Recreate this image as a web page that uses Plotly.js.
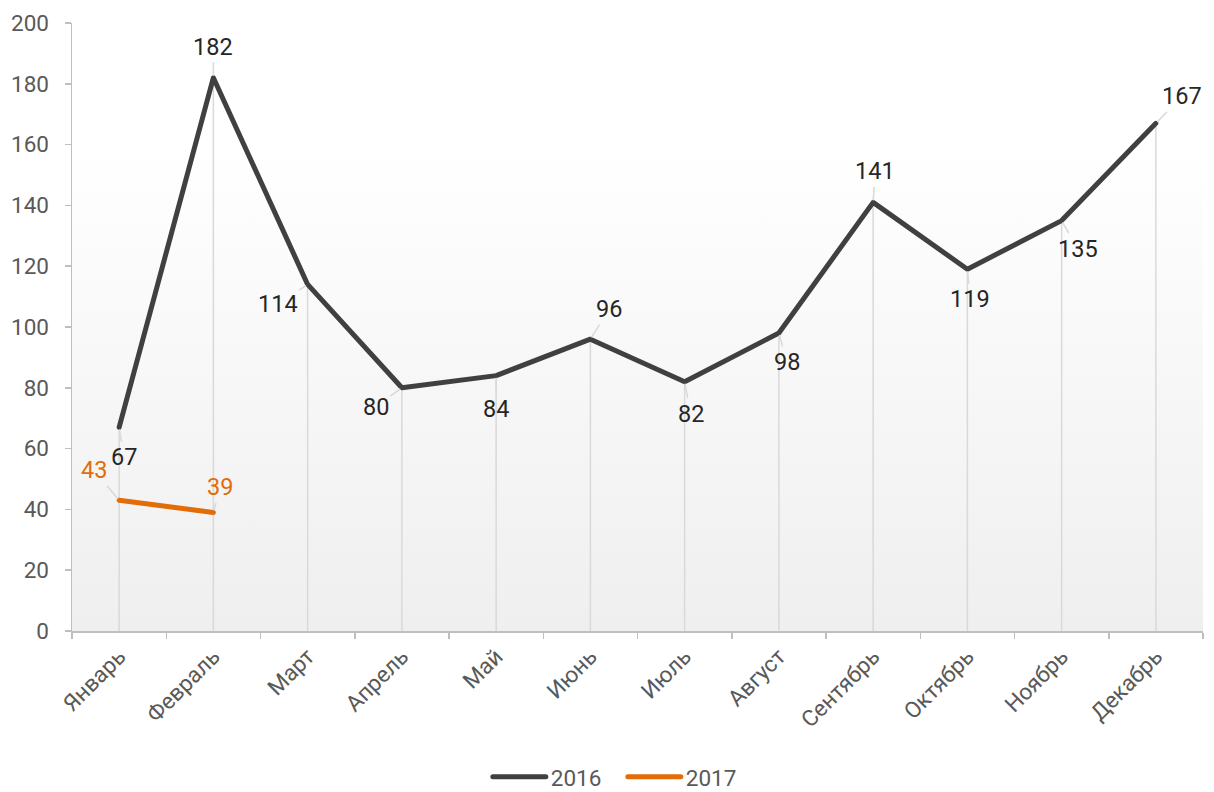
<!DOCTYPE html>
<html>
<head>
<meta charset="utf-8">
<script src="https://cdn.plot.ly/plotly-3.0.1.min.js"></script>
<style>html,body{margin:0;padding:0;background:#fff;}#chart{width:1214px;height:792px;}</style>
</head>
<body>
<div id="chart"></div>
<script>
const months = ["Январь","Февраль","Март","Апрель","Май","Июнь","Июль","Август","Сентябрь","Октябрь","Ноябрь","Декабрь"];
const values2016 = [67,182,114,80,84,96,82,98,141,119,135,167];
const months2017 = ["Январь","Февраль"];
const values2017 = [43,39];
const yTicks = [0,20,40,60,80,100,120,140,160,180,200];

// label offsets (style only)
const off2016 = [[5,30],[0,-31],[-30,20],[-26,19],[0,33],[19,-30],[6,32],[8,29],[2,-31],[3,30],[16,28],[26,-27]];
const off2017 = [[-25,-30],[7,-25]];

const traces = [
  {
    x: months, y: values2016, type: 'scatter', mode: 'markers',
    marker: {size: 1, color: 'rgba(0,0,0,0)'},
    error_y: {type: 'data', symmetric: false, array: values2016.map(() => 0), arrayminus: values2016,
              width: 0, thickness: 1.5, color: '#d9d9d9'},
    showlegend: false, hoverinfo: 'skip'
  },
  {
    x: months, y: values2016, type: 'scatter', mode: 'lines', name: '2016',
    line: {color: '#404040', width: 5}
  },
  {
    x: months2017, y: values2017, type: 'scatter', mode: 'lines', name: '2017',
    line: {color: '#e36c09', width: 5}
  }
];

const annotations = [];
values2016.forEach((v, i) => {
  annotations.push({x: months[i], y: v, xref: 'x', yref: 'y', text: String(v),
    showarrow: true, arrowhead: 0, arrowwidth: 1.5, arrowcolor: '#d9d9d9',
    ax: off2016[i][0], ay: off2016[i][1], standoff: 2,
    font: {family: 'Roboto', size: 23.5, color: '#262626'}});
});
values2017.forEach((v, i) => {
  annotations.push({x: months2017[i], y: v, xref: 'x', yref: 'y', text: String(v),
    showarrow: true, arrowhead: 0, arrowwidth: 1.5, arrowcolor: '#d9d9d9',
    ax: off2017[i][0], ay: off2017[i][1], standoff: 2,
    font: {family: 'Roboto', size: 23.5, color: '#e36c09'}});
});

const grad = '<svg xmlns="http://www.w3.org/2000/svg" width="100" height="100" preserveAspectRatio="none">' +
  '<defs><linearGradient id="g" x1="0" y1="0" x2="0" y2="1">' +
  '<stop offset="0" stop-color="#ffffff"/><stop offset="0.2" stop-color="#ffffff"/><stop offset="1" stop-color="#efefef"/>' +
  '</linearGradient></defs><rect width="100" height="100" fill="url(#g)"/></svg>';

const layout = {
  width: 1214, height: 792,
  margin: {l: 72, r: 11, t: 23, b: 161, autoexpand: false},
  paper_bgcolor: '#ffffff',
  plot_bgcolor: 'rgba(0,0,0,0)',
  font: {family: 'Roboto', size: 22.5, color: '#595959'},
  images: [{source: 'data:image/svg+xml;charset=utf-8,' + encodeURIComponent(grad),
    xref: 'paper', yref: 'paper', x: 0, y: 1, sizex: 1, sizey: 1,
    sizing: 'stretch', xanchor: 'left', yanchor: 'top', layer: 'below'}],
  xaxis: {
    type: 'category', categoryorder: 'array', categoryarray: months,
    range: [-0.5, 11.5], tickangle: -45, tickson: 'boundaries', automargin: false,
    ticks: 'outside', ticklen: 6, tickcolor: '#bfbfbf', tickwidth: 1.5,
    showline: true, linecolor: '#bfbfbf', linewidth: 1.5,
    showgrid: false, zeroline: false, ticklabelstandoff: 2,
    tickfont: {family: 'Roboto', size: 22.5, color: '#595959'}
  },
  yaxis: {
    range: [0, 200], tickvals: yTicks, ticktext: yTicks.map(String), automargin: false,
    ticks: 'outside', ticklen: 6, tickcolor: '#bfbfbf', tickwidth: 1.5,
    showline: true, linecolor: '#bfbfbf', linewidth: 1.5,
    showgrid: false, zeroline: false, ticklabelstandoff: 11,
    tickfont: {family: 'Roboto', size: 22.5, color: '#595959'}
  },
  legend: {orientation: 'h', x: 0.388, xanchor: 'left', y: -0.2405, yanchor: 'middle',
    entrywidth: 90, entrywidthmode: 'pixels', borderwidth: 0,
    font: {family: 'Roboto', size: 22.5, color: '#595959'}, bgcolor: 'rgba(0,0,0,0)'},
  annotations: annotations,
  hovermode: false
};

Plotly.newPlot('chart', traces, layout, {displayModeBar: false, staticPlot: true}).then(function () {
  // lengthen legend line symbols to match the reference swatch width; let them overflow the legend box
  document.querySelectorAll('.legend [clip-path]').forEach(function (el) { el.removeAttribute('clip-path'); });
  document.querySelectorAll('.legendlines path').forEach(function (p) {
    p.setAttribute('d', 'M-18,0h53');
    p.style.strokeLinecap = 'round';
  });
  document.querySelectorAll('.scatterlayer .js-line').forEach(function (p) {
    p.style.strokeLinecap = 'round';
    p.style.strokeLinejoin = 'round';
  });
});
</script>
</body>
</html>
